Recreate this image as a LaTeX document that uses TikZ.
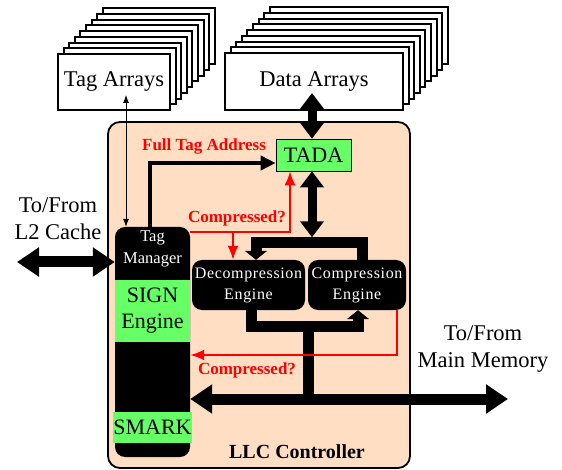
\documentclass[tikz,border=0pt]{standalone}
\usepackage{fontspec}
\setmainfont{Liberation Serif}
\usetikzlibrary{arrows.meta,positioning}
\definecolor{peach}{RGB}{255,222,196}
\definecolor{lgreen}{RGB}{102,255,102}

\begin{document}
\begin{tikzpicture}[x=1pt, y=-1pt]
		\tikzstyle{stack}=[draw, line width=2pt, fill=white];
		\tikzstyle{outtext}=[font=\fontsize{22.5}{27}\selectfont, align=center];
		\tikzstyle{engine}=[fill=black, rounded corners=10pt, text=white, font=\fontsize{16}{21}\selectfont\addfontfeature{LetterSpace=4}, align=center, minimum height=50pt, inner sep=0pt];
		\tikzstyle{greenbox}=[fill=lgreen, minimum width=75pt, inner sep=0pt, font=\fontsize{22}{26}\selectfont, align=center];
		\tikzstyle{signal}=[draw=red, line width=2pt, -{Latex[length=14pt,width=11pt]}];
		\tikzstyle{redtext}=[text=red, font=\fontsize{17}{20}\selectfont\bfseries];
		\tikzstyle{wide}=[line width=11pt];
		\tikzstyle{bus}=[line width=11pt, {Triangle[length=22pt,width=28pt]}-{Triangle[length=22pt,width=28pt]}];
		\tikzstyle{port}=[line width=9pt, {Triangle[length=16pt,width=23pt]}-{Triangle[length=16pt,width=23pt]}];

		\useasboundingbox (0,0) rectangle (562,470);

		\draw[line width=1.8pt, fill=peach, rounded corners=12pt] (108,122) rectangle (410,468);

		\foreach \i in {8,...,1} {
			\draw[stack, shift={(5.6*\i,-5.7*\i)}] (58,54) rectangle (170,110);
			\draw[stack, shift={(5.6*\i,-5.7*\i)}] (225,53) rectangle (403,110);
		}
		\node[stack, outtext, minimum width=112pt, minimum height=56pt] (tagarr) at (114,82) {Tag Arrays};
		\node[stack, outtext, minimum width=178pt, minimum height=57pt] (dataarr) at (314,81.5) {Data Arrays};

		\node[draw, line width=0.6pt, fill=lgreen, minimum width=75pt, minimum height=32pt, font=\fontsize{22}{26}\selectfont] (tada) at (313.5,155) {TADA};

		\node[fill=black, rounded corners=10pt, minimum width=75pt, minimum height=230pt] (tagcol) at (152.5,342) {};
		\node[text=white, font=\fontsize{16.5}{22}\selectfont, align=center, below=0pt of tagcol.north] (tagmgr) {Tag\\Manager};
		\node[greenbox, minimum height=62pt] (sign) at (152.5,311) {SIGN\\Engine};
		\node[greenbox, minimum height=31pt] (smark) at (152.5,427.5) {SMARK};

		\node[engine, minimum width=113pt] (decomp) at (248.5,285) {Decompression\\Engine};
		\node[engine, minimum width=98pt] (comp) at (357,285) {Compression\\Engine};

		\coordinate (tagtip) at (126,95);
		\coordinate (datatip) at (312,93);
		\coordinate (ft) at (150,163);
		\coordinate (topbar) at (312,243);
		\coordinate (lowbar) at (308,326);
		\coordinate (l2end) at (17,262);
		\coordinate (memend) at (508,399);
		\coordinate (cq) at (290,232);
		\coordinate (cb) at (233,232);
		\coordinate (cr) at (397,355);

		\draw[line width=0.8pt, {Latex[length=8pt,width=6pt]}-{Latex[length=8pt,width=6pt]}] (tagtip) -- (tagtip |- tagcol.north);
		\draw[line width=4pt, -{Triangle[length=15pt,width=14pt]}] (ft |- tagcol.north) -- (ft) -- (ft -| tada.west);
		\draw[port] (datatip) -- (datatip |- tada.north);
		\draw[port] (topbar |- tada.south) -- ++(0,66);

		\draw[wide, -{Triangle[length=9pt,width=22pt]}] ([xshift=5pt]comp.north) -- ++(0,-17) -| ([xshift=7.5pt]decomp.north);
		\draw[wide, -{Triangle[length=9pt,width=22pt]}] ([xshift=2.5pt]decomp.south) |- (lowbar) -| ([xshift=1pt]comp.south);
		\draw[wide] (lowbar) -- (lowbar |- memend);

		\draw[bus] (l2end) -- (l2end -| tagcol.west);
		\draw[bus] (tagcol.east |- memend) -- (memend);

		\draw[signal] (tagcol.east |- cq) -- (cq) -- (cq |- tada.south);
		\draw[signal] (cb) -- (cb |- decomp.north);
		\draw[signal] (cr |- comp.south) -- (cr) -- (cr -| tagcol.east);

		\node[redtext] (fulltag) at (204,146) {Full Tag Address};
		\node[redtext] (compq) at (237,218) {Compressed?};
		\node[redtext] (compq2) at (247,370) {Compressed?};

		\node[outtext] (l2) at (58,219) {To/From\\L2 Cache};
		\node[outtext] (mem) at (483,349) {To/From\\Main Memory};
		\node[font=\fontsize{20}{24}\selectfont\bfseries] (llc) at (297,452) {LLC Controller};
	\end{tikzpicture}
\end{document}
